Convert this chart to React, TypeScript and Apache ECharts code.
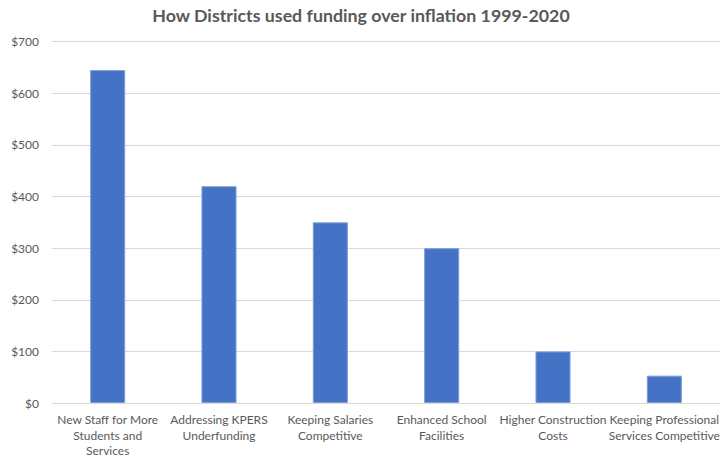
import React, { useEffect, useRef } from "react";
import * as echarts from "echarts";

const titleText = "How Districts used funding over inflation 1999-2020";
const categories = [
  "New Staff for More\nStudents and\nServices",
  "Addressing KPERS\nUnderfunding",
  "Keeping Salaries\nCompetitive",
  "Enhanced School\nFacilities",
  "Higher Construction\nCosts",
  "Keeping Professional\nServices Competitive",
];
const values = [645, 420, 350, 300, 100, 53];
const yMin = 0;
const yMax = 700;
const yInterval = 100;

const FONT = "Lato, 'Open Sans', sans-serif";

export default function App() {
  const ref = useRef<HTMLDivElement>(null);
  useEffect(() => {
    document.body.style.margin = "0";
    if (!ref.current) return;
    const chart = echarts.init(ref.current, null, { renderer: "svg" });
    chart.setOption({
      animation: false,
      backgroundColor: "#ffffff",
      title: {
        text: titleText,
        left: "center",
        top: 1,
        textStyle: { fontFamily: FONT, fontSize: 17.8, fontWeight: "bold", color: "#595959" },
      },
      grid: {
        left: 52,
        right: 2,
        top: 41.7,
        bottom: 55,
        containLabel: false,
        outerBoundsMode: "none",
      },
      xAxis: {
        type: "category",
        data: categories,
        axisLine: { show: true, lineStyle: { color: "#d9d9d9", width: 1 } },
        axisTick: { show: false },
        axisLabel: {
          interval: 0,
          margin: 9,
          fontFamily: FONT,
          fontSize: 12,
          lineHeight: 15.5,
          color: "#595959",
          align: "center",
        },
      },
      yAxis: {
        type: "value",
        min: yMin,
        max: yMax,
        interval: yInterval,
        axisLine: { show: false },
        axisTick: { show: false },
        splitLine: { lineStyle: { color: "#d9d9d9", width: 1 } },
        axisLabel: {
          margin: 13,
          fontFamily: FONT,
          fontSize: 12,
          color: "#595959",
          formatter: (v: number) => "$" + v,
        },
      },
      series: [
        {
          type: "bar",
          data: values,
          barWidth: "31.5%",
          itemStyle: { color: "#4472C4", borderColor: "#7e9fd8", borderWidth: 1 },
        },
      ],
    });
    return () => chart.dispose();
  }, []);
  return <div ref={ref} style={{ width: 722, height: 458 }} />;
}
